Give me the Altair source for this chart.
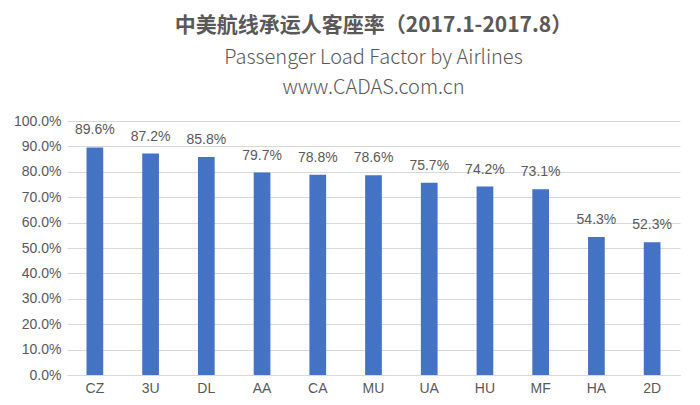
import altair as alt
import pandas as pd

airlines = ["CZ", "3U", "DL", "AA", "CA", "MU", "UA", "HU", "MF", "HA", "2D"]
load_factor = [0.896, 0.872, 0.858, 0.797, 0.788, 0.786, 0.757, 0.742, 0.731, 0.543, 0.523]

df = pd.DataFrame({"airline": airlines, "lf": load_factor})

x = alt.X("airline:N", sort=airlines, title=None,
          scale=alt.Scale(paddingInner=0.7, paddingOuter=0.35),
          axis=alt.Axis(labelAngle=0, labelFontSize=14, labelColor="#595959",
                        labelFont="Liberation Sans", domain=True, domainColor="#d9d9d9",
                        ticks=False, labelPadding=6))
y = alt.Y("lf:Q", title=None,
          scale=alt.Scale(domain=[0, 1]),
          axis=alt.Axis(format=".1%", values=[i / 10 for i in range(11)],
                        labelFontSize=14, labelColor="#595959", labelFont="Liberation Sans",
                        domain=False, ticks=False, gridColor="#d9d9d9", labelPadding=6))

bars = alt.Chart(df).mark_bar(color="#4472C4").encode(x=x, y=y)
labels = alt.Chart(df).mark_text(dy=-17, fontSize=14, color="#595959",
                                 font="Liberation Sans").encode(
    x=x, y=y, text=alt.Text("lf:Q", format=".1%"))

chart = (bars + labels).properties(
    width=684, height=389,
    autosize=alt.AutoSizeParams(type="fit", contains="padding"),
    padding={"left": 5, "right": 12, "top": 7, "bottom": 2},
    title=alt.TitleParams(
        text="中美航线承运人客座率（2017.1-2017.8）",
        subtitle=["Passenger Load Factor by Airlines", "www.CADAS.com.cn"],
        font="Noto Sans CJK SC", fontSize=21, fontWeight="bold", color="#595959",
        subtitleFont="Noto Sans CJK SC", subtitleFontSize=20, subtitleFontWeight=300,
        subtitleColor="#595959", subtitleLineHeight=30, subtitlePadding=12,
        anchor="middle", offset=16),
).configure_view(stroke=None)

chart.save("out.html", embed_options={"renderer": "svg", "actions": False})
